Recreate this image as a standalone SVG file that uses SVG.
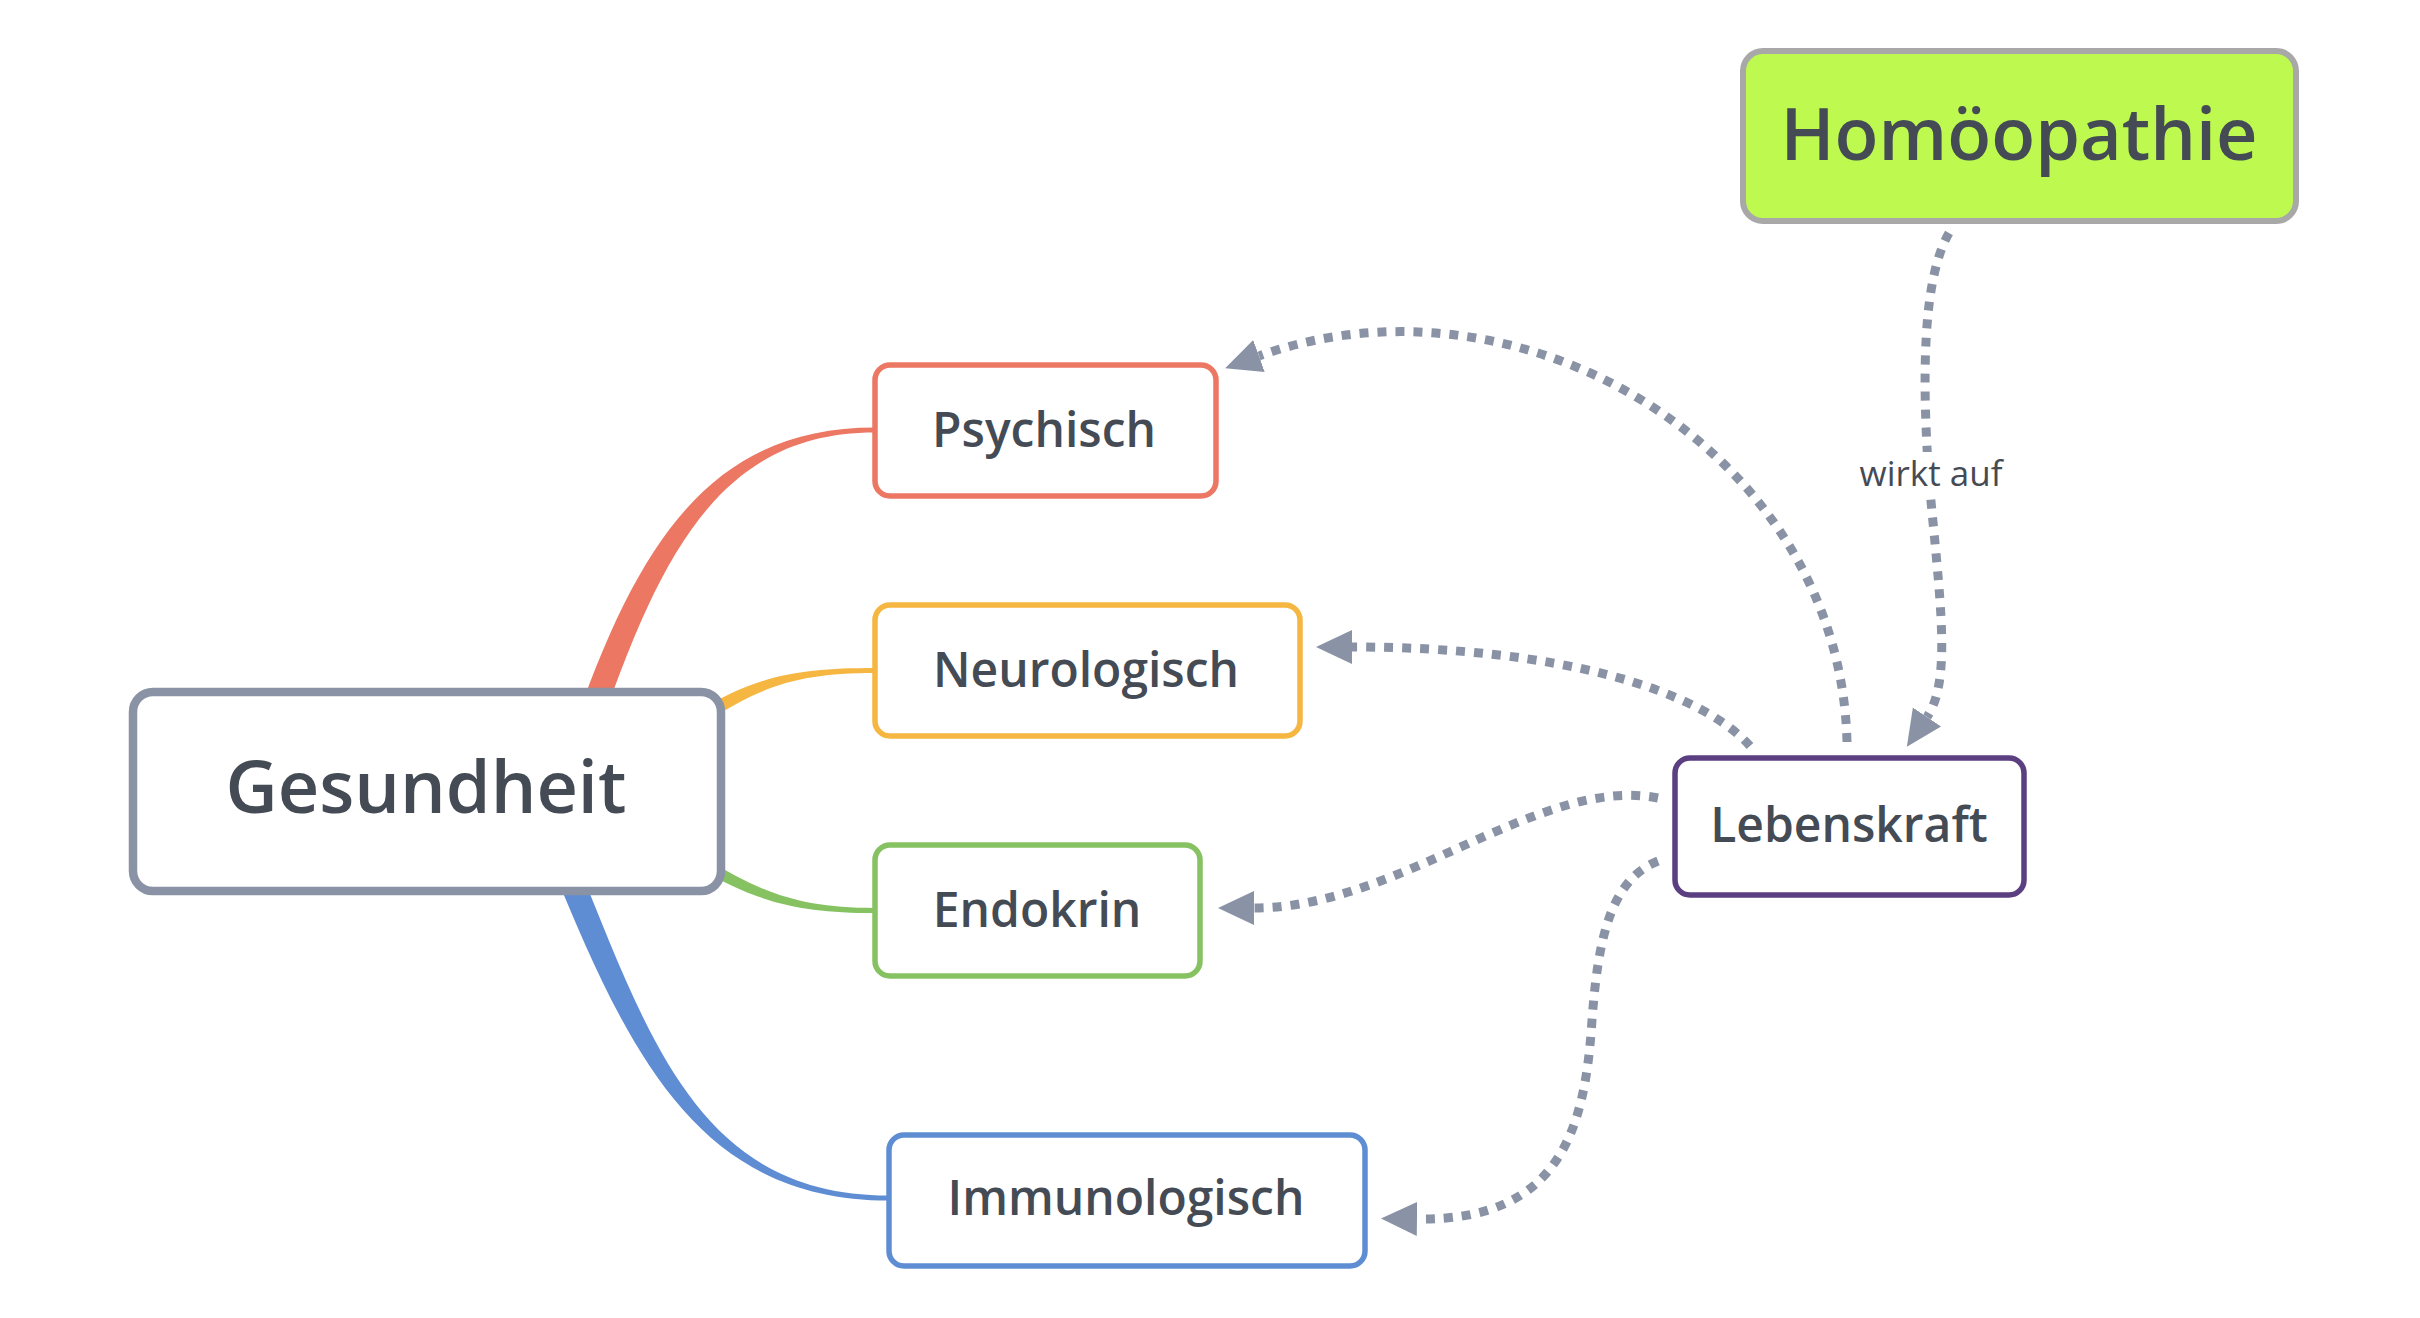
<svg xmlns="http://www.w3.org/2000/svg" width="2420" height="1318" viewBox="0 0 2420 1318">
<style>
  .node { fill: #ffffff; stroke-width: 5.5; }
  .lbl { font-family: "Open Sans", "Noto Sans", "Liberation Sans", sans-serif; font-weight: 600; fill: #454b54; text-anchor: middle; }
  .mid { font-size: 48px; }
  .big { font-size: 72px; }
  .dot { fill: none; stroke: #8a93a5; stroke-width: 9; stroke-dasharray: 9 9; marker-end: url(#arr); }
  .elabel { font-family: "Open Sans", "Noto Sans", "Liberation Sans", sans-serif; font-size: 35px; fill: #454b54; text-anchor: middle; }
</style>
<defs>
  <marker id="arr" markerUnits="userSpaceOnUse" markerWidth="40" markerHeight="40" refX="0" refY="17" orient="auto">
    <path d="M0,0 L36,17 L0,34 Z" fill="#8a93a5"/>
  </marker>
</defs>
<rect width="2420" height="1318" fill="#ffffff"/>

<g id="connectors">
  <!-- tapered branches -->
  <path d="M571,736 C639,534 716,427.5 875,427.5 L875,432.5 C724,432.5 661,546 595,744 Z" fill="#ec7763"/>
  <path d="M696.5,712.5 C757,675 800,668 875,668 L875,673 C800,673 763,685 703.5,723.5 Z" fill="#f5b642"/>
  <path d="M703,857 C762,893 800,908 875,908 L875,913 C800,913 758,903 697,867 Z" fill="#86c262"/>
  <path d="M574.6,855.3 C651,1046 702,1195.5 889,1195.5 L889,1200.5 C698,1200.5 629,1054 551.4,864.7 Z" fill="#5f8dd3"/>
  <!-- dotted relations -->
  <path class="dot" d="M1847,742 C1840,450 1520,262 1259,356"/>
  <path class="dot" d="M1750,746 C1700,690 1560,647 1352,647"/>
  <path class="dot" d="M1658,798 C1540,775 1400,908 1254,908"/>
  <path class="dot" d="M1658,861 C1610,880 1598,940 1592,1020 C1585,1130 1560,1221 1417,1219"/>
  <path class="dot" d="M1949,233 C1922,280 1922,380 1929,480 C1940,600 1952,680 1927,717"/>
  <rect x="1850" y="452" width="162" height="45" fill="#ffffff"/>
  <text class="elabel" x="1931" y="485.5">wirkt auf</text>
</g>

<g id="node-gesundheit">
  <rect x="133" y="692" width="588" height="199" rx="20" fill="#ffffff" stroke="#8a93a5" stroke-width="8.5"/>
  <text class="lbl big" x="426" y="812.5">Gesundheit</text>
</g>
<g id="node-psychisch">
  <rect class="node" x="875" y="365" width="341" height="131" rx="15" stroke="#ec7763"/>
  <text class="lbl mid" x="1044" y="446.5">Psychisch</text>
</g>
<g id="node-neurologisch">
  <rect class="node" x="875" y="605" width="425" height="131" rx="15" stroke="#f5b642"/>
  <text class="lbl mid" x="1086" y="686.5">Neurologisch</text>
</g>
<g id="node-endokrin">
  <rect class="node" x="875" y="845" width="325" height="131" rx="15" stroke="#86c262"/>
  <text class="lbl mid" x="1037" y="926.5">Endokrin</text>
</g>
<g id="node-immunologisch">
  <rect class="node" x="889" y="1135" width="476" height="131" rx="15" stroke="#5f8dd3"/>
  <text class="lbl mid" x="1126" y="1215">Immunologisch</text>
</g>
<g id="node-lebenskraft">
  <rect class="node" x="1675" y="758" width="349" height="137" rx="15" stroke="#5c3f80" stroke-width="6"/>
  <text class="lbl mid" x="1849" y="841.5">Lebenskraft</text>
</g>
<g id="node-homoeopathie">
  <rect x="1743" y="51" width="553" height="170" rx="20" fill="#bef94f" stroke="#a8a8a8" stroke-width="6"/>
  <text class="lbl big" x="2019" y="159.5">Homöopathie</text>
</g>
</svg>
